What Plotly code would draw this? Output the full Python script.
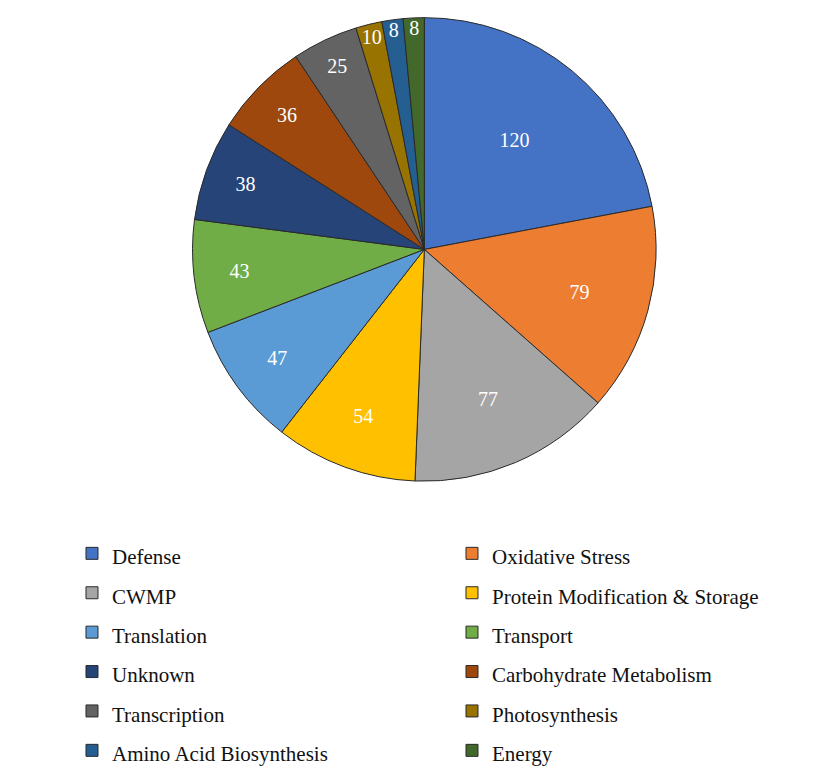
import plotly.graph_objects as go

categories = ["Defense", "Oxidative Stress", "CWMP", "Protein Modification & Storage",
              "Translation", "Transport", "Unknown", "Carbohydrate Metabolism",
              "Transcription", "Photosynthesis", "Amino Acid Biosynthesis", "Energy"]
values = [120, 79, 77, 54, 47, 43, 38, 36, 25, 10, 8, 8]
colors = ["#4472C4", "#ED7D31", "#A5A5A5", "#FFC000", "#5B9BD5", "#70AD47",
          "#264478", "#9E480E", "#636363", "#997300", "#255E91", "#43682B"]

legend_labels = ['<span style="font-size:21px">%s</span>' % c for c in categories]

fig = go.Figure(go.Pie(
    labels=legend_labels, values=values, sort=False, direction="clockwise", rotation=0,
    marker=dict(colors=colors, line=dict(color="#2a2a2a", width=1)),
    textinfo="value", textposition="inside", insidetextorientation="horizontal",
    textfont=dict(family="Liberation Serif", size=20, color="white"),
    domain=dict(x=[0.08, 1], y=[0.36, 0.995]),
    customdata=categories,
    hovertemplate="%{customdata}: %{value}<extra></extra>",
))
fig.update_layout(
    width=824, height=768,
    margin=dict(l=0, r=0, t=6, b=6),
    paper_bgcolor="white",
    font=dict(family="Liberation Serif", size=20, color="#111111"),
    uniformtext=dict(minsize=20, mode="show"),
    showlegend=True,
    legend=dict(orientation="h", x=0.083, xanchor="left", y=0.295, yanchor="top",
                entrywidth=335, entrywidthmode="pixels",
                font=dict(family="Liberation Serif", size=28, color="#111111"),
                traceorder="normal"),
)
fig.write_html("out.html")
